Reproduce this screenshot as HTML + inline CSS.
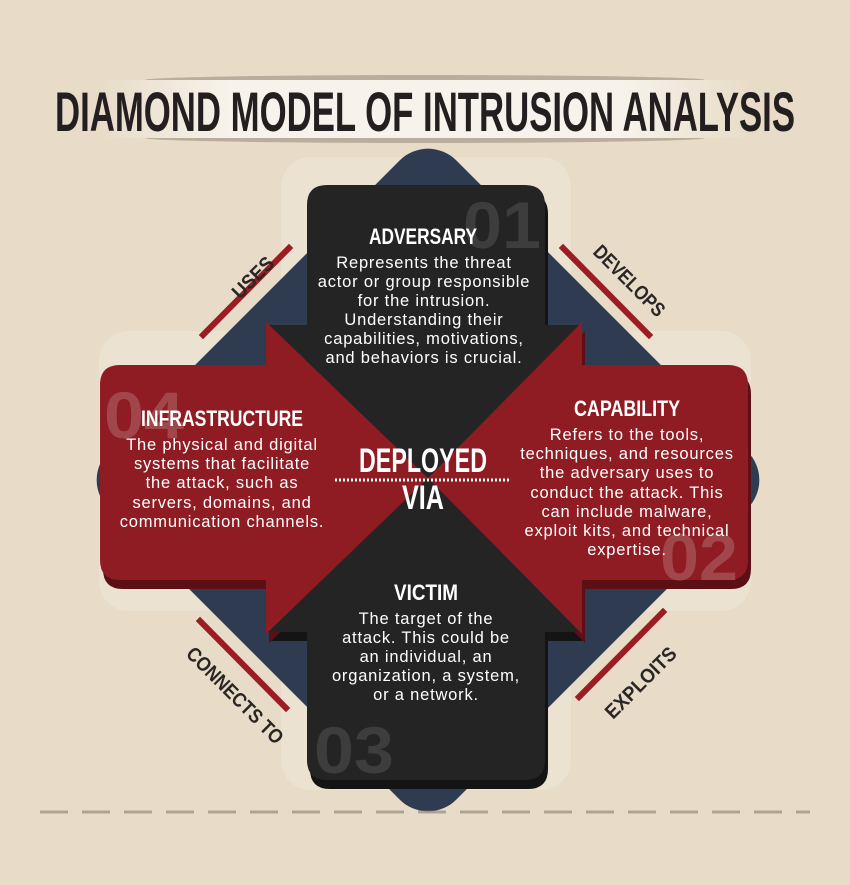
<!DOCTYPE html>
<html><head><meta charset="utf-8"><style>
html,body{margin:0;padding:0;background:#e8dcc8;}
svg{display:block}
.b{font-family:"Liberation Sans",sans-serif;font-size:16.5px;letter-spacing:0.8px;fill:#fff;text-anchor:middle}
.h{font-family:"Liberation Sans",sans-serif;font-weight:bold;fill:#fff;text-anchor:middle}
.l{font-family:"Liberation Sans",sans-serif;font-weight:bold;fill:#2a2626;font-size:20px}
</style></head><body>
<svg width="850" height="885" viewBox="0 0 850 885" xmlns="http://www.w3.org/2000/svg">
<defs>
<linearGradient id="band" x1="0" x2="1"><stop offset="0" stop-color="#e8dcc8"/><stop offset="0.2" stop-color="#f7f3ec"/><stop offset="0.8" stop-color="#f7f3ec"/><stop offset="1" stop-color="#e8dcc8"/></linearGradient>
</defs>
<rect width="850" height="885" fill="#e8dcc8"/>
<ellipse cx="425" cy="80" rx="280" ry="5" fill="#8a7f72" opacity="0.5"/>
<ellipse cx="425" cy="138" rx="280" ry="5" fill="#8a7f72" opacity="0.5"/>
<rect x="100" y="80" width="650" height="58" fill="url(#band)"/>
<text x="55" y="131" textLength="740" lengthAdjust="spacingAndGlyphs" font-family="Liberation Sans,sans-serif" font-weight="bold" font-size="56" fill="#231f20">DIAMOND MODEL OF INTRUSION ANALYSIS</text>

<rect x="281" y="157" width="290" height="633" rx="30" fill="#ece2d1"/>
<rect x="99" y="331" width="652" height="280" rx="30" fill="#ece2d1"/>
<rect x="182" y="234" width="492" height="492" rx="40" transform="rotate(45 428 480)" fill="#2f3b50"/>

<g stroke="#9b1c22" stroke-width="6" stroke-linecap="square">
<line x1="203" y1="335" x2="289" y2="248"/>
<line x1="563" y1="248" x2="649" y2="335"/>
<line x1="579" y1="697" x2="663" y2="612"/>
<line x1="200" y1="621" x2="286" y2="708"/>
</g>
<text class="l" transform="translate(240,300) rotate(-45)" textLength="50" lengthAdjust="spacingAndGlyphs">USES</text>
<text class="l" transform="translate(592,253) rotate(45)" textLength="92" lengthAdjust="spacingAndGlyphs">DEVELOPS</text>
<text class="l" transform="translate(613,720) rotate(-45)" textLength="92" lengthAdjust="spacingAndGlyphs">EXPLOITS</text>
<text class="l" transform="translate(185,655) rotate(45)" textLength="128" lengthAdjust="spacingAndGlyphs">CONNECTS TO</text>

<g transform="translate(3,9)">
<path d="M327,185 H525 Q545,185 545,205 V325 H582 L428,478 L268,325 H307 V205 Q307,185 327,185Z" fill="#141414"/>
<path d="M327,780 H525 Q545,780 545,760 V632 H582 L428,478 L268,632 H307 V760 Q307,780 327,780Z" fill="#141414"/>
<path d="M120,365 H266 V322 L428,478 L266,634 V580 H120 Q100,580 100,560 V385 Q100,365 120,365Z" fill="#5c0f14"/>
<path d="M728,365 H582 V322 L428,478 L582,634 V580 H728 Q748,580 748,560 V385 Q748,365 728,365Z" fill="#5c0f14"/>
</g>
<path d="M327,185 H525 Q545,185 545,205 V325 H582 L428,478 L268,325 H307 V205 Q307,185 327,185Z" fill="#242424"/>
<path d="M327,780 H525 Q545,780 545,760 V632 H582 L428,478 L268,632 H307 V760 Q307,780 327,780Z" fill="#242424"/>
<path d="M120,365 H266 V322 L428,478 L266,634 V580 H120 Q100,580 100,560 V385 Q100,365 120,365Z" fill="#8e1c22"/>
<path d="M728,365 H582 V322 L428,478 L582,634 V580 H728 Q748,580 748,560 V385 Q748,365 728,365Z" fill="#8e1c22"/>

<g font-family="Liberation Sans,sans-serif" font-weight="bold" font-size="66">
<text x="463" y="248" fill="#3d3d3d" textLength="78" lengthAdjust="spacingAndGlyphs">01</text>
<text x="104" y="438" fill="#a1474b" textLength="80" lengthAdjust="spacingAndGlyphs">04</text>
<text x="660" y="580" fill="#a1474b" textLength="78" lengthAdjust="spacingAndGlyphs">02</text>
<text x="314" y="773" fill="#3d3d3d" textLength="80" lengthAdjust="spacingAndGlyphs">03</text>
</g>

<text class="h" x="423" y="244" font-size="22" textLength="108" lengthAdjust="spacingAndGlyphs">ADVERSARY</text>
<text class="b" x="424" y="268">Represents the threat</text>
<text class="b" x="424" y="287">actor or group responsible</text>
<text class="b" x="424" y="306">for the intrusion.</text>
<text class="b" x="424" y="325">Understanding their</text>
<text class="b" x="424" y="344">capabilities, motivations,</text>
<text class="b" x="424" y="363">and behaviors is crucial.</text>

<text class="h" x="222" y="426" font-size="22" textLength="162" lengthAdjust="spacingAndGlyphs">INFRASTRUCTURE</text>
<text class="b" x="222" y="450">The physical and digital</text>
<text class="b" x="222" y="469">systems that facilitate</text>
<text class="b" x="222" y="488">the attack, such as</text>
<text class="b" x="222" y="508">servers, domains, and</text>
<text class="b" x="222" y="527">communication channels.</text>

<text class="h" x="627" y="416" font-size="22" textLength="106" lengthAdjust="spacingAndGlyphs">CAPABILITY</text>
<text class="b" x="627" y="440">Refers to the tools,</text>
<text class="b" x="627" y="459">techniques, and resources</text>
<text class="b" x="627" y="478">the adversary uses to</text>
<text class="b" x="627" y="498">conduct the attack. This</text>
<text class="b" x="627" y="517">can include malware,</text>
<text class="b" x="627" y="536">exploit kits, and technical</text>
<text class="b" x="627" y="555">expertise.</text>

<text class="h" x="426" y="600" font-size="22" textLength="64" lengthAdjust="spacingAndGlyphs">VICTIM</text>
<text class="b" x="426" y="624">The target of the</text>
<text class="b" x="426" y="643">attack. This could be</text>
<text class="b" x="426" y="662">an individual, an</text>
<text class="b" x="426" y="681">organization, a system,</text>
<text class="b" x="426" y="700">or a network.</text>

<text class="h" x="423" y="472" font-size="34" textLength="128" lengthAdjust="spacingAndGlyphs">DEPLOYED</text>
<line x1="335" y1="480" x2="510" y2="480" stroke="#fff" stroke-width="3" stroke-dasharray="2 2"/>
<text class="h" x="423" y="509" font-size="34" textLength="42" lengthAdjust="spacingAndGlyphs">VIA</text>

<line x1="40" y1="812" x2="810" y2="812" stroke="#8a7f72" stroke-width="3" stroke-dasharray="28 14" opacity="0.6"/>
</svg>
</body></html>
